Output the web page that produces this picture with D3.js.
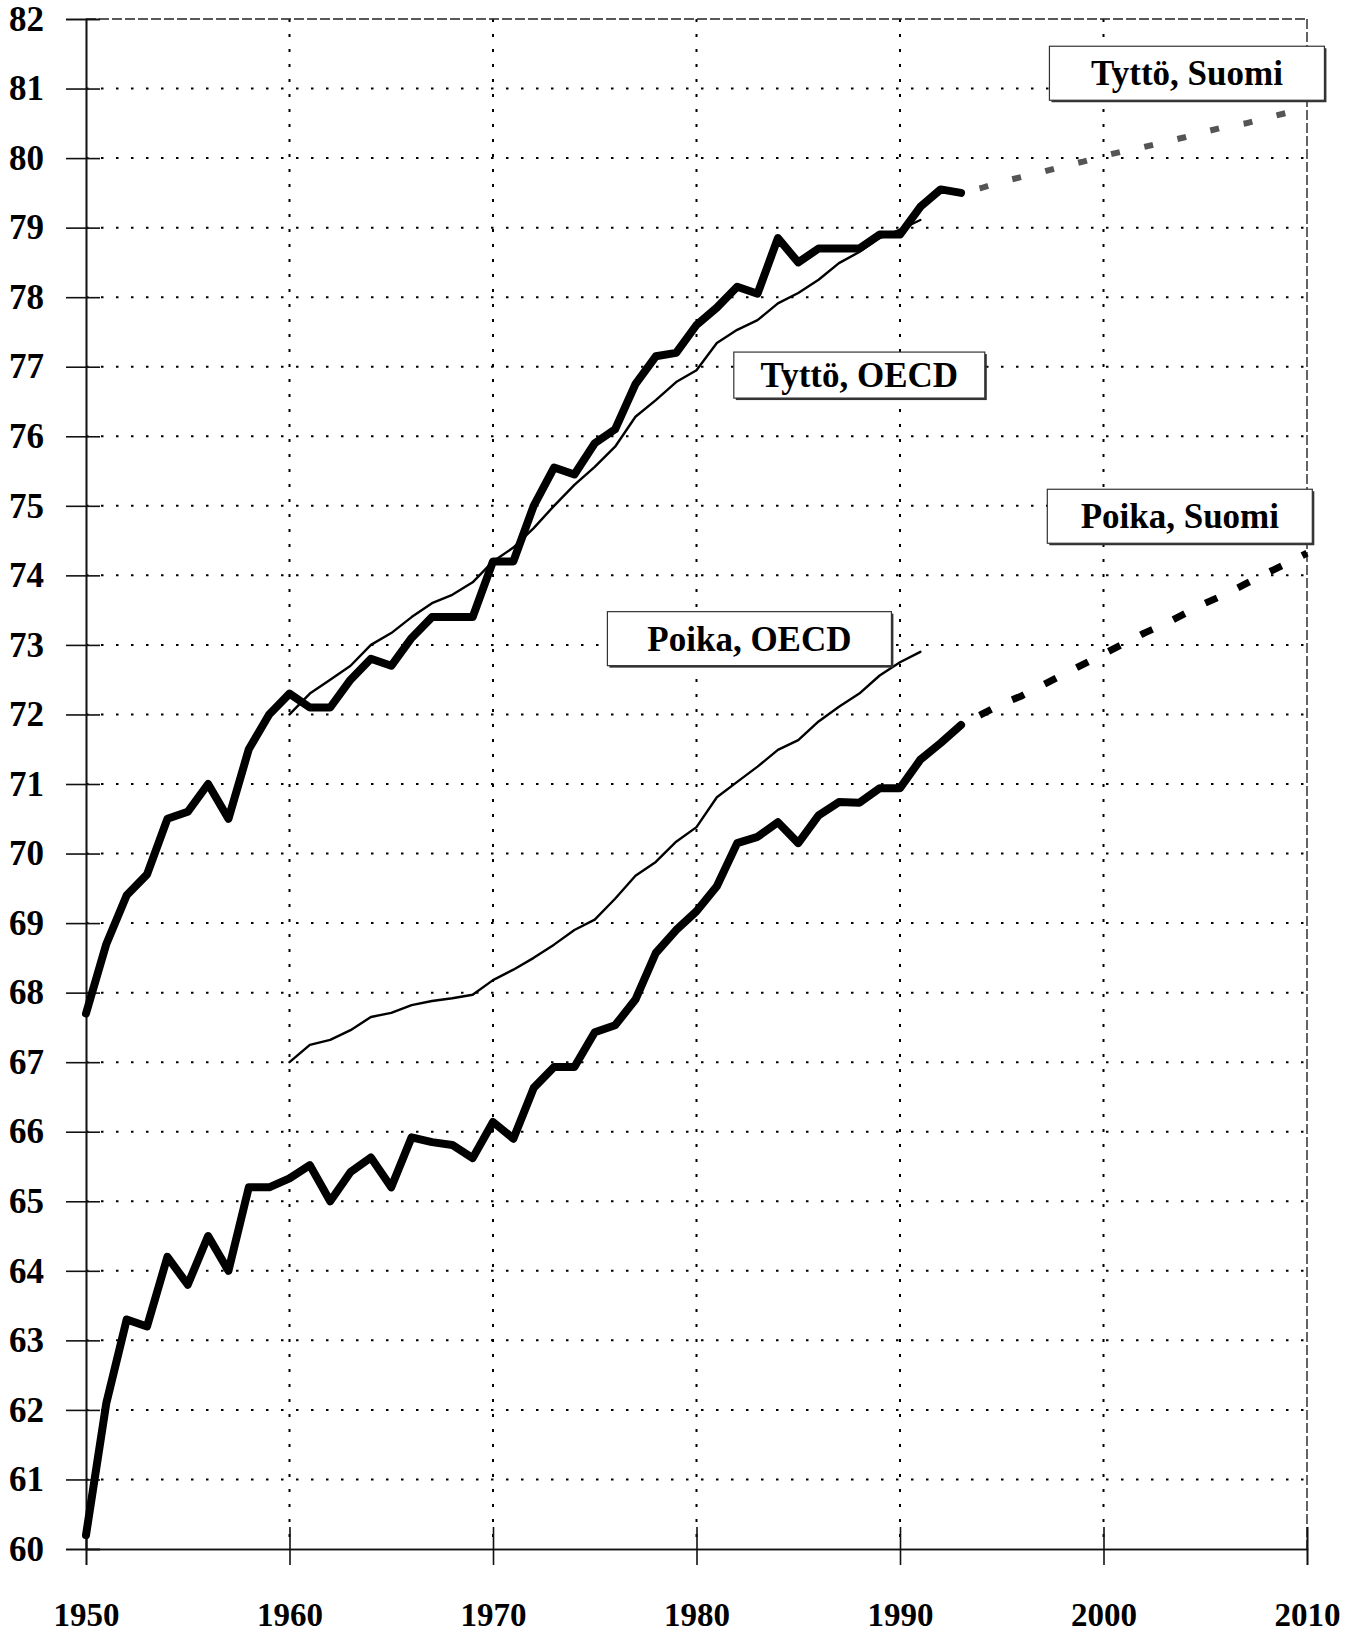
<!DOCTYPE html>
<html>
<head>
<meta charset="utf-8">
<script src="https://cdn.jsdelivr.net/npm/d3@7"></script>
<style>
    body { margin: 0; background: #fff; }
    svg { display: block; }
    .lbl { font-family: "Liberation Serif", "Times New Roman", serif; font-weight: bold; }
</style>
</head>
<body>
<svg width="1350" height="1635"></svg>
<script>
const years_fi = d3.range(1950, 1994),
      years_oecd = d3.range(1960, 1992),
      years_proj = d3.range(1993, 2011);

// Tyttö = girl, Poika = boy (life expectancy at birth)
const girl_fi = [67.7, 68.7, 69.4, 69.7, 70.5, 70.6, 71.0, 70.5, 71.5, 72.0,
                 72.3, 72.1, 72.1, 72.5, 72.8, 72.7, 73.1, 73.4, 73.4, 73.4,
                 74.2, 74.2, 75.0, 75.55, 75.45, 75.9, 76.1, 76.75, 77.15, 77.2,
                 77.6, 77.85, 78.15, 78.05, 78.85, 78.5, 78.7, 78.7, 78.7, 78.9,
                 78.9, 79.3, 79.55, 79.5];
const girl_oecd = [72.0, 72.3, 72.5, 72.7, 73.0, 73.17, 73.4, 73.6, 73.72, 73.9,
                   74.2, 74.4, 74.68, 75.0, 75.3, 75.56, 75.85, 76.28, 76.52, 76.78,
                   76.95, 77.34, 77.53, 77.67, 77.91, 78.06, 78.25, 78.49, 78.65, 78.85,
                   78.97, 79.11];
const boy_fi = [60.2, 62.1, 63.3, 63.2, 64.2, 63.8, 64.5, 64.0, 65.2, 65.2,
                65.33, 65.52, 65.0, 65.42, 65.63, 65.2, 65.92, 65.85, 65.81, 65.62,
                66.14, 65.9, 66.63, 66.93, 66.93, 67.43, 67.53, 67.9, 68.57, 68.9,
                69.17, 69.53, 70.15, 70.24, 70.45, 70.15, 70.55, 70.74, 70.73, 70.94,
                70.94, 71.35, 71.59, 71.85];
const boy_oecd = [67.0, 67.25, 67.32, 67.46, 67.65, 67.71, 67.82, 67.88, 67.92, 67.97,
                  68.18, 68.33, 68.5, 68.69, 68.9, 69.05, 69.35, 69.68, 69.88, 70.17,
                  70.38, 70.81, 71.03, 71.25, 71.49, 71.63, 71.9, 72.11, 72.3, 72.56,
                  72.75, 72.9];
// ennuste (projection) 1993-2010
const girl_proj = [79.5, 79.57, 79.66, 79.73, 79.8, 79.88, 79.95, 80.03, 80.1, 80.16,
                   80.23, 80.3, 80.38, 80.45, 80.5, 80.58, 80.65, 80.72];
const boy_proj = [71.85, 72.0, 72.15, 72.27, 72.42, 72.57, 72.72, 72.87, 73.02, 73.17,
                  73.3, 73.45, 73.6, 73.73, 73.88, 74.03, 74.17, 74.32];

const x_ticks = [1950, 1960, 1970, 1980, 1990, 2000, 2010],
      y_ticks = d3.range(60, 83);

const label_text = ['Tyttö, Suomi', 'Poika, Suomi', 'Tyttö, OECD', 'Poika, OECD'],
      label_year = [2004.1, 2003.75, 1988.0, 1982.6],
      label_value = [81.22, 74.85, 76.88, 73.09];

const m_left = 86, m_right = 1307, m_top = 19, m_bottom = 1549;

let xScale = d3.scaleLinear().domain([1950, 2010]).range([m_left, m_right]),
    yScale = d3.scaleLinear().domain([60, 82]).range([m_bottom, m_top]);

let svg = d3.select('svg');

// dotted grid
let grid = svg.append('g');
grid.selectAll('line.h')
    .data(y_ticks.filter(v => v > 60 && v < 82))
    .enter()
    .append('line')
    .attr('x1', m_left).attr('x2', m_right)
    .attr('y1', v => yScale(v)).attr('y2', v => yScale(v))
    .attr('stroke', '#000').attr('stroke-width', 2)
    .attr('stroke-dasharray', '2.5 12.5');
grid.selectAll('line.v')
    .data(x_ticks.filter(t => t > 1950 && t < 2010))
    .enter()
    .append('line')
    .attr('x1', t => xScale(t)).attr('x2', t => xScale(t))
    .attr('y1', m_top).attr('y2', m_bottom)
    .attr('stroke', '#000').attr('stroke-width', 2)
    .attr('stroke-dasharray', '3 12');

// frame top / right
svg.append('line')
    .attr('x1', m_left).attr('x2', m_right)
    .attr('y1', yScale(82)).attr('y2', yScale(82))
    .attr('stroke', '#222').attr('stroke-width', 1.4)
    .attr('stroke-dasharray', '10 3');
svg.append('line')
    .attr('x1', xScale(2010)).attr('x2', xScale(2010))
    .attr('y1', m_top).attr('y2', m_bottom)
    .attr('stroke', '#222').attr('stroke-width', 1.4)
    .attr('stroke-dasharray', '10 3');

// axes
let yAxis = svg.append('g')
    .attr('transform', `translate(${m_left},0)`)
    .call(d3.axisLeft(yScale).tickValues(y_ticks).tickSize(20).tickPadding(22).tickFormat(d3.format('d')));
let yInner = svg.append('g')
    .attr('transform', `translate(${m_left},0)`)
    .call(d3.axisLeft(yScale).tickValues(y_ticks).tickSize(-14).tickFormat(''));
let xAxis = svg.append('g')
    .attr('transform', `translate(0,${m_bottom})`)
    .call(d3.axisBottom(xScale).tickValues(x_ticks).tickSize(16).tickPadding(38).tickFormat(d3.format('d')));
let xInner = svg.append('g')
    .attr('transform', `translate(0,${m_bottom})`)
    .call(d3.axisBottom(xScale).tickValues(x_ticks).tickSize(-22).tickFormat(''));

[yAxis, yInner, xAxis, xInner].forEach(a => {
    a.selectAll('path.domain').attr('stroke', '#111').attr('stroke-width', 1.6);
    a.selectAll('.tick line').attr('stroke', '#111').attr('stroke-width', 1.6);
});
yAxis.selectAll('text')
    .attr('class', 'lbl')
    .style('font-size', '35px')
    .attr('fill', '#000');
xAxis.selectAll('text')
    .attr('class', 'lbl')
    .style('font-size', '33px')
    .attr('fill', '#000');

let line = d3.line()
    .x(d => xScale(d[0]))
    .y(d => yScale(d[1]));

function plotSeries(years, values, width, opts = {}) {
    let p = svg.append('path')
        .datum(years.map((y, i) => [y, values[i]]))
        .attr('d', line)
        .attr('fill', 'none')
        .attr('stroke', opts.color || '#000')
        .attr('stroke-width', width)
        .attr('stroke-linejoin', 'round')
        .attr('stroke-linecap', opts.dash ? 'butt' : 'round');
    if (opts.dash) {
        p.attr('stroke-dasharray', opts.dash).attr('stroke-dashoffset', opts.offset || 0);
    }
    return p;
}

plotSeries(years_oecd, girl_oecd, 2.4);
plotSeries(years_oecd, boy_oecd, 2.4);
plotSeries(years_fi, girl_fi, 8);
plotSeries(years_fi, boy_fi, 8);
plotSeries(years_proj, girl_proj, 6, {dash: '9 25', offset: 15, color: '#555'});
plotSeries(years_proj, boy_proj, 7, {dash: '13 23', offset: 15});

// series labels in boxes
const box_w = [275, 265, 251, 284],
      box_h = [54, 54, 46, 54];

let labels = svg.selectAll('g.serieslabel')
    .data(label_text)
    .enter()
    .append('g')
    .attr('class', 'serieslabel')
    .attr('transform', (d, i) => `translate(${xScale(label_year[i])},${yScale(label_value[i])})`);

labels.append('rect') // shadow on right/bottom
    .attr('x', (d, i) => -box_w[i] / 2 + 2)
    .attr('y', (d, i) => -box_h[i] / 2 + 2)
    .attr('width', (d, i) => box_w[i])
    .attr('height', (d, i) => box_h[i])
    .attr('fill', '#333');
labels.append('rect')
    .attr('x', (d, i) => -box_w[i] / 2)
    .attr('y', (d, i) => -box_h[i] / 2)
    .attr('width', (d, i) => box_w[i])
    .attr('height', (d, i) => box_h[i])
    .attr('fill', '#fff')
    .attr('stroke', '#333')
    .attr('stroke-width', 1.2);
labels.append('text')
    .attr('class', 'lbl')
    .attr('text-anchor', 'middle')
    .attr('y', 12)
    .style('font-size', '35px')
    .text(d => d);
</script>
</body>
</html>
